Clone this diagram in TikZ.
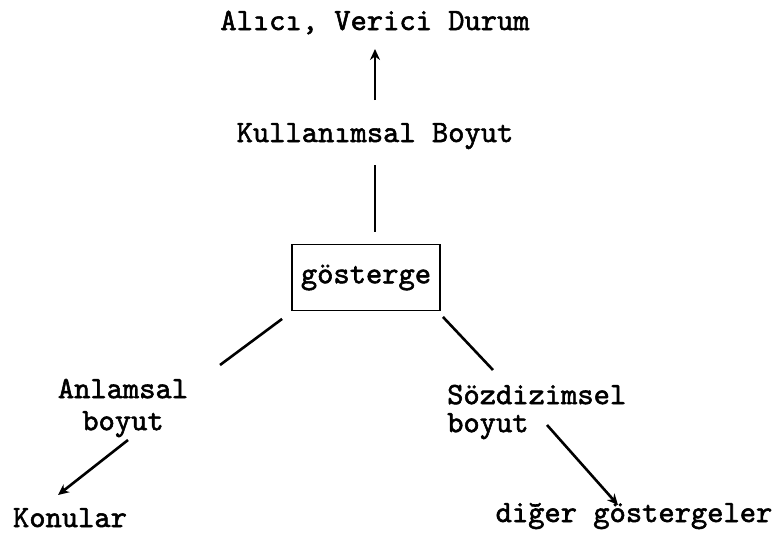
\documentclass[tikz,border=0pt]{standalone}
\usepackage{fontspec}
\newfontfamily\tw{lmmono10-regular}[Extension=.otf, FakeBold=1.8]
\usetikzlibrary{arrows.meta,calc}
\begin{document}
\begin{tikzpicture}[x=1pt,y=-1pt,
  lbl/.style={font=\tw\fontsize{31}{30}\selectfont, inner sep=0pt},
  boxed/.style={lbl, draw, line width=1.8pt, minimum width=148pt, minimum height=66pt},
  link/.style={line width=2.6pt},
  vlink/.style={line width=2pt},
  tip/.style={-{Stealth[length=11pt,width=10pt]}},
  arr/.style={link,tip}]
\useasboundingbox (0,0) rectangle (776,538);

% labels
\node[lbl, anchor=base] (top) at (375,30) {Alıcı, Verici Durum};
\node[lbl, anchor=base] (kul) at (375,142) {Kullanımsal Boyut};
\node[boxed] (box) at (366,277.5) {gösterge};
\node[lbl, align=center] (anl) at (123,408) {Anlamsal\\[2pt]boyut};
\node[lbl, align=left, anchor=west] (soz) at (447,412) {Sözdizimsel\\[-2pt]boyut};
\node[lbl, anchor=base] (kon) at (70,527) {Konular};
\node[lbl, anchor=base] (dig) at (634,522) {diğer göstergeler};

% connectors
\draw[vlink,tip] ($(kul.base)+(0,-42)$) -- ($(top.base)+(0,19)$);
\draw[vlink] ($(kul.base)+(0,23)$) -- ($(box.north)+(9,-12)$);
\draw[link] ($(box.south west)+(-9,7.5)$) -- ($(anl.center)+(97,-43)$);
\draw[link] ($(box.south east)+(2,5.5)$) -- ($(soz.west)+(46,-42)$);
\draw[arr] ($(anl.center)+(5,32)$) -- ($(kon.base)+(-12,-32)$);
\draw[arr] ($(soz.west)+(100,13)$) -- ($(dig.base)+(-16,-17)$);
\end{tikzpicture}
\end{document}
